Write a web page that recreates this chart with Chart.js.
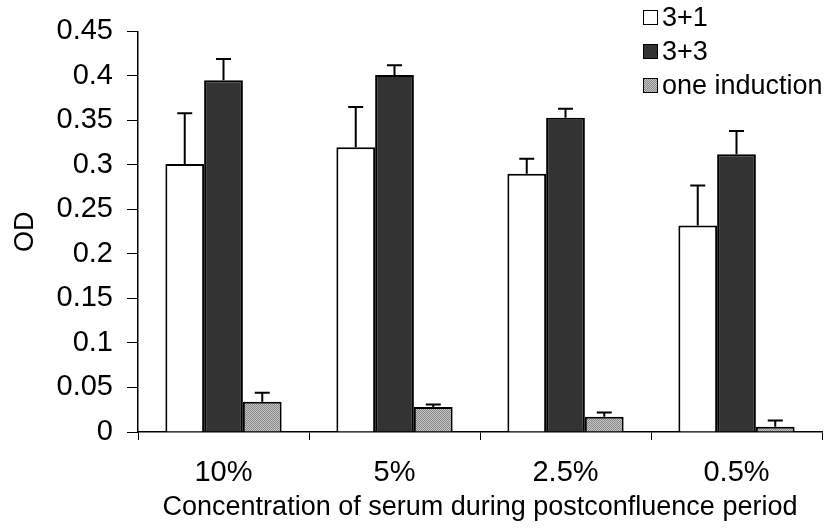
<!DOCTYPE html>
<html>
<head>
<meta charset="utf-8">
<script src="https://cdn.jsdelivr.net/npm/chart.js@4.4.1/dist/chart.umd.min.js"></script>
<style>
  html, body { margin: 0; padding: 0; background: #fff; }
  #wrap { position: relative; width: 826px; height: 528px; }
  #legend { position: absolute; left: 643px; top: 0px; font-family: 'Liberation Sans', Arial, sans-serif; font-size: 27px; color: #000; }
  #legend div { height: 34px; line-height: 34px; white-space: nowrap; }
  #legend span.box { display: inline-block; width: 13px; height: 13px; border: 1.5px solid #000; margin-right: 4px; vertical-align: 1px; }
</style>
</head>
<body>
<div id="wrap">
  <canvas id="chart" width="826" height="528"></canvas>
  <div id="legend"></div>
</div>
<script>
const categories = ['10%', '5%', '2.5%', '0.5%'];
const seriesNames = ['3+1', '3+3', 'one induction'];

const values31 = [0.301, 0.320, 0.290, 0.232];
const values33 = [0.395, 0.401, 0.353, 0.312];
const valuesOne = [0.034, 0.028, 0.017, 0.006];

const err31 = [0.057, 0.045, 0.017, 0.045];
const err33 = [0.024, 0.011, 0.010, 0.026];
const errOne = [0.010, 0.003, 0.005, 0.007];

const FONT = "'Liberation Sans', Arial, sans-serif";

// checker pattern for the grey bars
function makePattern() {
    const c = document.createElement('canvas');
    c.width = 2; c.height = 2;
    const g = c.getContext('2d');
    g.fillStyle = '#c4c4c4'; g.fillRect(0, 0, 2, 2);
    g.fillStyle = '#8a8a8a'; g.fillRect(0, 0, 1, 1); g.fillRect(1, 1, 1, 1);
    return { canvas: c, pattern: document.getElementById('chart').getContext('2d').createPattern(c, 'repeat') };
}
const grey = makePattern();

// one-sided error bars with caps
const errorBars = {
    id: 'errorBars',
    afterDatasetsDraw(chart) {
        const ctx = chart.ctx;
        const y = chart.scales.y;
        ctx.save();
        ctx.strokeStyle = '#000';
        ctx.lineWidth = 2;
        chart.data.datasets.forEach((ds, i) => {
            const meta = chart.getDatasetMeta(i);
            meta.data.forEach((bar, j) => {
                const top = y.getPixelForValue(ds.data[j] + ds.errors[j]);
                ctx.beginPath();
                ctx.moveTo(bar.x, bar.y);
                ctx.lineTo(bar.x, top);
                ctx.moveTo(bar.x - 7.5, top);
                ctx.lineTo(bar.x + 7.5, top);
                ctx.stroke();
            });
        });
        ctx.restore();
    }
};

const chart = new Chart(document.getElementById('chart'), {
    type: 'bar',
    data: {
        labels: categories,
        datasets: [
            { label: seriesNames[0], data: values31, errors: err31, backgroundColor: '#ffffff', borderColor: '#000', borderWidth: 2 },
            { label: seriesNames[1], data: values33, errors: err33, backgroundColor: '#333333', borderColor: '#000', borderWidth: 2 },
            { label: seriesNames[2], data: valuesOne, errors: errOne, backgroundColor: grey.pattern, borderColor: '#000', borderWidth: 2 }
        ]
    },
    options: {
        responsive: false,
        animation: false,
        layout: { padding: { top: 22, right: 4, left: 0, bottom: 0 } },
        datasets: { bar: { categoryPercentage: 0.68, barPercentage: 1.0 } },
        plugins: { legend: { display: false }, tooltip: { enabled: false } },
        scales: {
            x: {
                grid: { drawOnChartArea: false, color: '#000', tickLength: 8, offset: true },
                border: { color: '#000', width: 1.5 },
                ticks: { color: '#000', font: { family: FONT, size: 29 }, padding: 16 },
                title: { display: true, text: 'Concentration of serum during postconfluence period', color: '#000', font: { family: FONT, size: 27 }, padding: { top: 4, bottom: 4 } },
                afterFit(scale) { scale.height = 96; }
            },
            y: {
                min: 0,
                max: 0.45,
                grid: { drawOnChartArea: false, color: '#000', tickLength: 11 },
                border: { color: '#000', width: 1.5 },
                ticks: { stepSize: 0.05, color: '#000', font: { family: FONT, size: 29 }, padding: 14,
                    callback: (v) => String(+v.toFixed(2)) },
                title: { display: true, text: 'OD', color: '#000', font: { family: FONT, size: 27 }, padding: { top: 9, bottom: 0 } },
                afterFit(scale) { scale.width = 138; }
            }
        }
    },
    plugins: [errorBars]
});

// legend
const legend = document.getElementById('legend');
chart.data.datasets.forEach((ds) => {
    const row = document.createElement('div');
    const box = document.createElement('span');
    box.className = 'box';
    if (ds.backgroundColor === grey.pattern) {
        box.style.backgroundImage = 'url(' + grey.canvas.toDataURL() + ')';
    } else {
        box.style.background = ds.backgroundColor;
    }
    row.appendChild(box);
    row.appendChild(document.createTextNode(ds.label));
    legend.appendChild(row);
});
</script>
</body>
</html>
